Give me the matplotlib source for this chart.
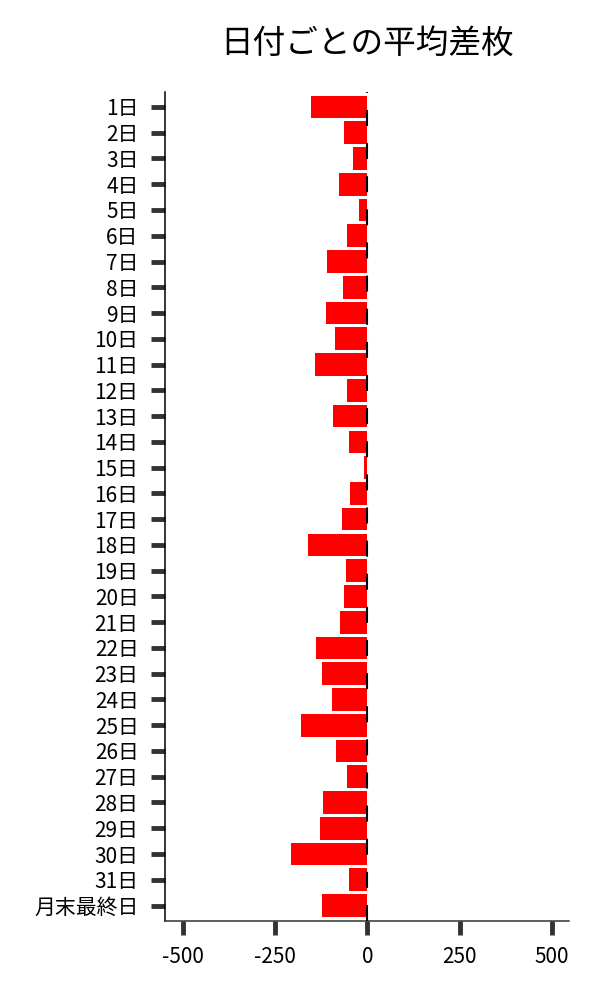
import matplotlib
matplotlib.use('Agg')
import matplotlib.pyplot as plt

plt.rcParams['font.family'] = ['Noto Sans CJK JP', 'DejaVu Sans']

days = [f'{i}日' for i in range(1, 32)] + ['月末最終日']
avg_diff = [-154, -64, -40, -78, -24, -56, -108, -67, -111, -89,
            -143, -54, -92, -51, -10, -48, -70, -160, -59, -62,
            -73, -138, -124, -97, -181, -86, -56, -119, -127, -206,
            -51, -124]

fig = plt.figure(figsize=(6, 10), dpi=100)
ax = fig.add_axes([0.275, 0.079, 0.674, 0.829])

ax.barh(range(len(days)), avg_diff, height=0.88, color='#ff0000')
# 0 の位置に破線
ax.axvline(0, color='black', lw=1.5, dashes=(7.7, 8.2), zorder=3)

ax.set_yticks(range(len(days)))
ax.set_yticklabels(days)
ax.set_ylim(31.6, -0.58)
ax.set_xlim(-548, 547)
ax.set_xticks([-500, -250, 0, 250, 500])
ax.set_xticklabels(['-500', '-250', '0', '250', '500'])

ax.spines['top'].set_visible(False)
ax.spines['right'].set_visible(False)
ax.spines['left'].set_linewidth(1.1)
ax.spines['bottom'].set_linewidth(1.1)
ax.spines['bottom'].set_color('#333333')

ax.tick_params(axis='both', length=10, width=3.5, color='#333333', labelsize=15)
ax.tick_params(axis='y', pad=9)
ax.tick_params(axis='x', pad=8)

ax.set_title('日付ごとの平均差枚', fontsize=23.5, pad=28)

fig.savefig('out.png', dpi=100)
